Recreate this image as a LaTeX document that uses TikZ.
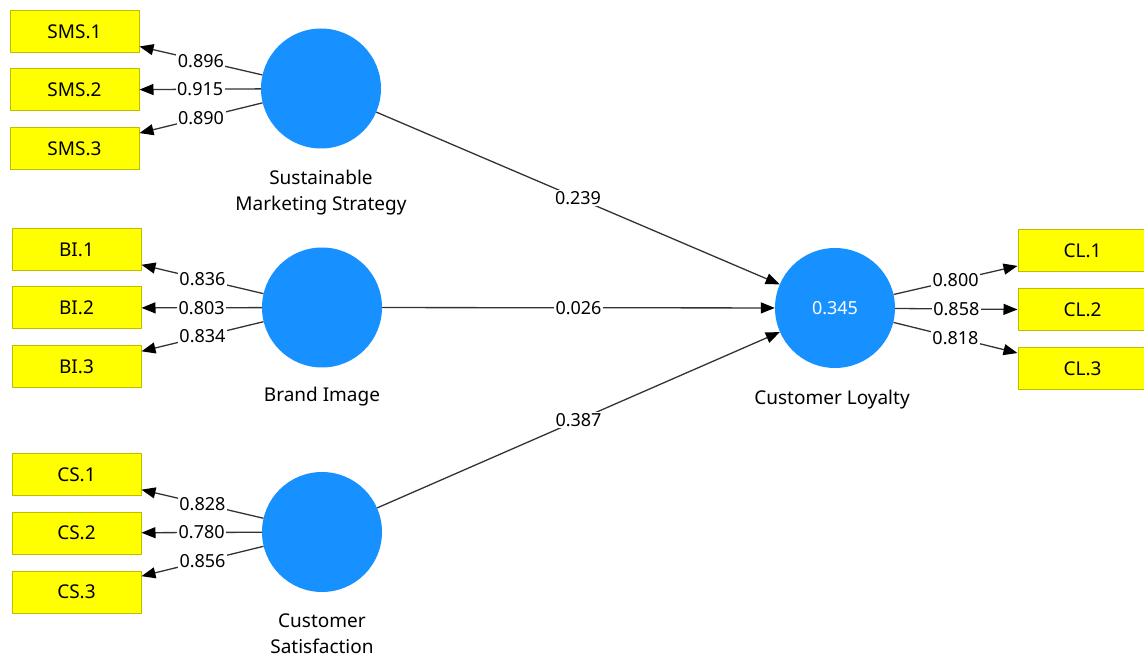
\documentclass[tikz,border=0pt]{standalone}
\usepackage{fontspec}
\setmainfont{Noto Sans}
\usetikzlibrary{arrows.meta}
\usetikzlibrary{positioning}

\definecolor{lvblue}{RGB}{23,145,255}
\definecolor{mvyellow}{RGB}{255,255,0}
\definecolor{mvborder}{RGB}{190,190,0}

\tikzset{
	latent/.style={circle, fill=lvblue, minimum size=120pt, inner sep=0pt, text=white, font=\fontsize{18}{22}\selectfont},
	indicator/.style={rectangle, draw=mvborder, line width=1pt, fill=mvyellow, minimum width=129pt, minimum height=42pt, inner sep=0pt, font=\fontsize{19}{22}\selectfont},
	link/.style={draw=black!80, line width=1.3pt, -{Triangle[length=14pt,width=11pt,color=black]}},
	coef/.style={fill=white, inner sep=1.5pt, font=\fontsize{18}{22}\selectfont},
	lvname/.style={align=center, font=\fontsize{19}{26}\selectfont},
}

\begin{document}
\begin{tikzpicture}[x=1pt, y=-1pt]
		\useasboundingbox[fill=white] (0,0) rectangle (1144,660);
		% latent variables
		\node[latent] (sms) at (321, 88.5) {};
		\node[latent] (bi) at (322, 307.5) {};
		\node[latent] (cs) at (322, 532) {};
		\node[latent] (cl) at (835, 308) {0.345};
		\node[lvname] (smsname) at (321, 193) {Sustainable\\Marketing Strategy};
		\node[lvname] (biname) at (322, 397) {Brand Image};
		\node[lvname] (csname) at (322, 634) {Customer\\Satisfaction};
		\node[lvname] (clname) at (832, 400) {Customer Loyalty};
		% indicators
		\node[indicator] (sms1) at (74.5, 31.5) {SMS.1};
		\node[indicator] (sms2) at (74.5, 90) {SMS.2};
		\node[indicator] (sms3) at (74.5, 149) {SMS.3};
		\node[indicator] (bi1) at (76.5, 249.5) {BI.1};
		\node[indicator] (bi2) at (76.5, 308) {BI.2};
		\node[indicator] (bi3) at (76.5, 367) {BI.3};
		\node[indicator] (cs1) at (76.5, 474.5) {CS.1};
		\node[indicator] (cs2) at (76.5, 533) {CS.2};
		\node[indicator] (cs3) at (76.5, 592) {CS.3};
		\node[indicator] (cl1) at (1082.5, 251) {CL.1};
		\node[indicator] (cl2) at (1082.5, 310) {CL.2};
		\node[indicator] (cl3) at (1082.5, 369) {CL.3};
		% outer loadings
		\draw[link] (sms) -- node[coef] {0.896} (sms1);
		\draw[link] (sms) -- node[coef] {0.915} (sms2);
		\draw[link] (sms) -- node[coef] {0.890} (sms3);
		\draw[link] (bi) -- node[coef] {0.836} (bi1);
		\draw[link] (bi) -- node[coef] {0.803} (bi2);
		\draw[link] (bi) -- node[coef] {0.834} (bi3);
		\draw[link] (cs) -- node[coef] {0.828} (cs1);
		\draw[link] (cs) -- node[coef] {0.780} (cs2);
		\draw[link] (cs) -- node[coef] {0.856} (cs3);
		\draw[link] (cl) -- node[coef] {0.800} (cl1);
		\draw[link] (cl) -- node[coef] {0.858} (cl2);
		\draw[link] (cl) -- node[coef] {0.818} (cl3);
		% path coefficients
		\draw[link] (sms) -- node[coef] {0.239} (cl);
		\draw[link] (bi) -- node[coef] {0.026} (cl);
		\draw[link] (cs) -- node[coef] {0.387} (cl);
	\end{tikzpicture}
\end{document}
